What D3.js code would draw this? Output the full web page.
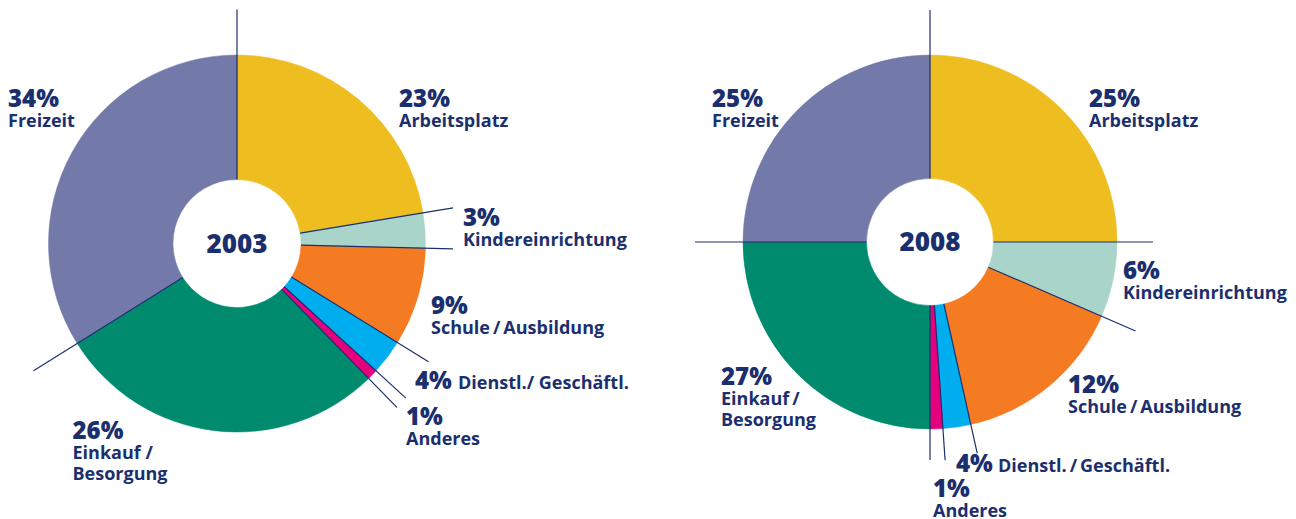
<!DOCTYPE html>
<html>
<head>
<meta charset="utf-8">
<script src="https://cdn.jsdelivr.net/npm/d3@7"></script>
<style>
    html, body { margin: 0; padding: 0; background: #fff; }
    svg { display: block; font-family: "Open Sans", "Noto Sans", sans-serif; }
    .pct { font-weight: 800; font-size: 24px; fill: #1b2f6e; }
    .name { font-weight: 700; font-size: 18px; fill: #1b2f6e; }
    .year { font-weight: 800; font-size: 26px; fill: #1b2f6e; }
</style>
</head>
<body>
<div id="chart"></div>
<script>
// categories, clockwise from 12 o'clock
const categories = ["Arbeitsplatz", "Kindereinrichtung", "Schule/Ausbildung", "Dienstl./Geschäftl.", "Anderes", "Einkauf/Besorgung", "Freizeit"];
const colors = ["#eebd20", "#a9d4ca", "#f47b22", "#00aeef", "#e5007e", "#008b6e", "#7379a8"];

const years = ["2003", "2008"];

// printed percentages
const pct2003 = [23, 3, 9, 4, 1, 26, 34];
const pct2008 = [25, 6, 12, 4, 1, 27, 25];

// slice sizes as actually drawn in the source (not exactly proportional to the printed %)
const drawn2003 = [22.4, 3.0, 8.4, 3.0, 0.9, 28.4, 33.9];
const drawn2008 = [25.0, 6.5, 15.0, 2.4, 1.1, 25.0, 25.0];

// label text lines per chart
const names2003 = [["Arbeitsplatz"], ["Kindereinrichtung"], ["Schule\u2009/\u2009Ausbildung"], ["Dienstl./ Geschäftl."], ["Anderes"], ["Einkauf /", "Besorgung"], ["Freizeit"]];
const names2008 = [["Arbeitsplatz"], ["Kindereinrichtung"], ["Schule\u2009/\u2009Ausbildung"], ["Dienstl.\u2009/\u2009Geschäftl."], ["Anderes"], ["Einkauf\u2009/", "Besorgung"], ["Freizeit"]];

const width = 1296, height = 519;

// layout per chart: centre, radii, leader line length per slice boundary, label anchors
const layouts = [
    {
        cx: 237, cy: 243.5, r: 188.5, hole: 64,
        lines: [234, 219, 216, 225, 229, 229, 240],
        labels: [
            {x: 399, y: 107}, {x: 463, y: 226}, {x: 431, y: 314},
            {x: 415, y: 389, inline: 458}, {x: 406, y: 425},
            {x: 72.5, y: 439}, {x: 8, y: 107}
        ]
    },
    {
        cx: 930, cy: 242, r: 187, hole: 63.5,
        lines: [232, 223, 224, 216.6, 218.7, 218, 235],
        labels: [
            {x: 1089, y: 107}, {x: 1123, y: 279}, {x: 1068, y: 393},
            {x: 956, y: 472, inline: 998}, {x: 933, y: 497},
            {x: 721, y: 385}, {x: 712, y: 107}
        ]
    }
];

const charts = [
    {year: years[0], pct: pct2003, drawn: drawn2003, names: names2003},
    {year: years[1], pct: pct2008, drawn: drawn2008, names: names2008}
];

const svg = d3.select("#chart").append("svg")
    .attr("width", width)
    .attr("height", height);

const color = d3.scaleOrdinal().domain(categories).range(colors);

const pie = d3.pie().sort(null).value(d => d.drawn);

charts.forEach((c, ci) => {
    const L = layouts[ci];
    const rows = categories.map((cat, i) => ({cat: cat, drawn: c.drawn[i], pct: c.pct[i], names: c.names[i], i: i}));
    const arcs = pie(rows);

    const arc = d3.arc().innerRadius(L.hole).outerRadius(L.r);

    const g = svg.append("g")
        .attr("transform", "translate(" + L.cx + "," + L.cy + ")");

    g.selectAll("path.slice")
        .data(arcs)
        .join("path")
        .attr("class", "slice")
        .attr("fill", d => color(d.data.cat))
        .attr("stroke", d => color(d.data.cat))
        .attr("stroke-width", 0.5)
        .attr("d", arc);

    // leader lines run along each slice's start boundary, from the hole outwards
    g.selectAll("line.leader")
        .data(arcs)
        .join("line")
        .attr("class", "leader")
        .attr("x1", d => L.hole * Math.sin(d.startAngle))
        .attr("y1", d => -L.hole * Math.cos(d.startAngle))
        .attr("x2", (d, i) => L.lines[i] * Math.sin(d.startAngle))
        .attr("y2", (d, i) => -L.lines[i] * Math.cos(d.startAngle))
        .attr("stroke", "#1b2f6e")
        .attr("stroke-width", 1.2);

    g.append("text")
        .attr("class", "year")
        .attr("text-anchor", "middle")
        .attr("dy", "0.36em")
        .text(c.year);

    // labels
    rows.forEach((d, i) => {
        const p = L.labels[i];
        svg.append("text")
            .attr("class", "pct")
            .attr("x", p.x)
            .attr("y", p.y)
            .text(d.pct + "%");

        if (p.inline) {
            svg.append("text")
                .attr("class", "name")
                .attr("x", p.inline)
                .attr("y", p.y)
                .text(d.names[0]);
            return;
        }
        const t = svg.append("text")
            .attr("class", "name")
            .attr("x", p.x)
            .attr("y", p.y + 20);
        d.names.forEach((n, k) => {
            t.append("tspan")
                .attr("x", p.x)
                .attr("dy", k === 0 ? 0 : 20.7)
                .text(n);
        });
    });
});
</script>
</body>
</html>
